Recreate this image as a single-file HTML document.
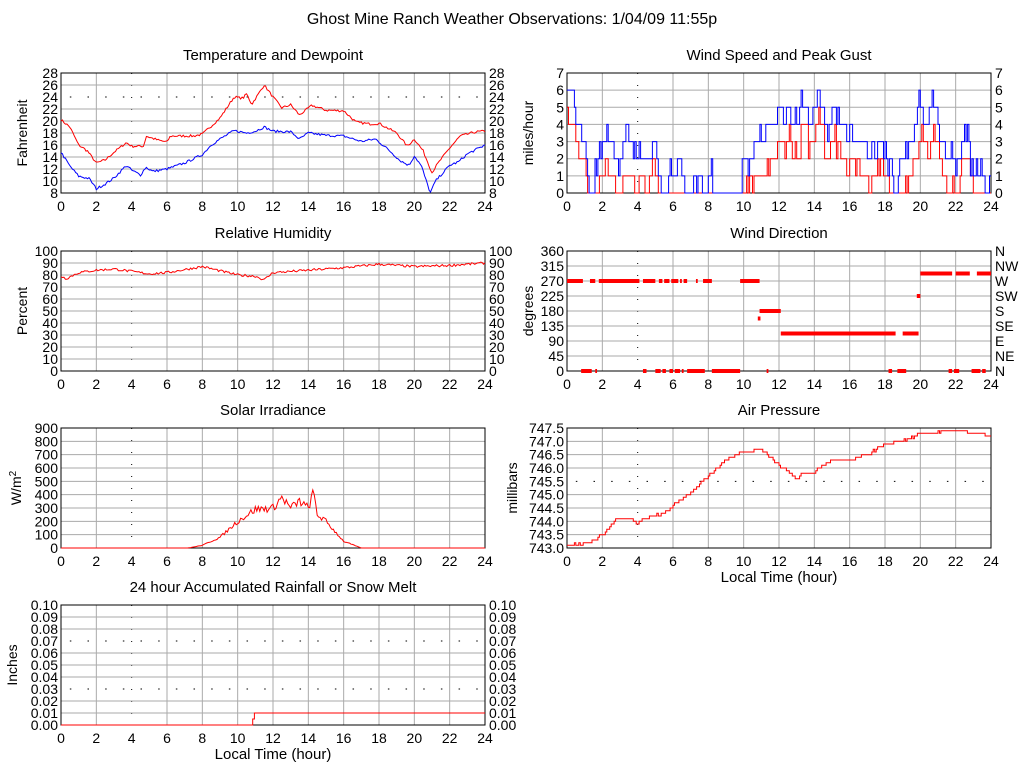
<!DOCTYPE html>
<html><head><meta charset="utf-8"><style>
html,body{margin:0;padding:0;background:#fff;width:1024px;height:768px;overflow:hidden}
svg{display:block}
text{font-family:"Liberation Sans",sans-serif;fill:#000}
</style></head><body>
<svg id="s" width="1024" height="768" xmlns="http://www.w3.org/2000/svg"></svg>
<script>
const S=document.getElementById('s');let out='';
function t(x,y,s,sz,anc,extra){out+=`<text x="${x}" y="${y}" font-size="${sz}" text-anchor="${anc||'middle'}" ${extra||''}>${s}</text>`;}
let seed=7;function rnd(){seed=(seed*16807)%2147483647;return seed/2147483647;}
function interp(k,h){for(let i=0;i<k.length-1;i++){if(h<=k[i+1][0]){const f=(h-k[i][0])/(k[i+1][0]-k[i][0]);return k[i][1]+f*(k[i+1][1]-k[i][1]);}}return k[k.length-1][1];}
function panel(o){
 const {x0,y0,w,h,min,max,n,fmt,right,title,ylab,dotY,xlab,yoff}=o;
 const X=v=>x0+v/24*w, Y=v=>y0+h-(v-min)/(max-min)*h;
 o.X=X;o.Y=Y;
 for(let i=1;i<12;i++){const x=X(i*2);out+= i==2?`<line x1="${x}" y1="${y0}" x2="${x}" y2="${y0+h}" stroke="#000" stroke-dasharray="1,11"/>`:`<line x1="${x}" y1="${y0}" x2="${x}" y2="${y0+h}" stroke="#aaa"/>`;}
 for(let i=1;i<n;i++){const y=y0+h-i*h/n;out+=(dotY&&dotY.includes(i))?`<line x1="${x0+w/48}" y1="${y}" x2="${x0+w}" y2="${y}" stroke="#000" stroke-dasharray="1.5,${(w/24-1.5).toFixed(2)}"/>`:`<line x1="${x0}" y1="${y}" x2="${x0+w}" y2="${y}" stroke="#aaa"/>`;}
 out+=`<rect x="${x0}" y="${y0}" width="${w}" height="${h}" fill="none" stroke="#000"/>`;
 for(let i=0;i<=n;i++){const y=y0+h-i*h/n;t(x0-3,y+5,fmt(i),14,'end');if(right)t(x0+w+4,y+5,right===true?fmt(i):right[i],14,'start');}
 for(let i=0;i<=12;i++)t(X(i*2),y0+h+18,i*2,14);
 t(x0+w/2,y0-13,title,15);
 const cy=y0+h/2;t(0,0,ylab,14,'middle',`transform="translate(${x0-(yoff||34)},${cy}) rotate(-90)"`);
 if(xlab)t(x0+w/2,y0+h+34,'Local Time (hour)',15);
 return o;}
function line(p,pts,col){out+=`<polyline fill="none" stroke="${col}" stroke-width="1" points="${pts.map(q=>p.X(q[0]).toFixed(1)+','+p.Y(q[1]).toFixed(1)).join(' ')}"/>`;}
function series(k,noise,step){const a=[];for(let h=0;h<=24.001;h+=step){a.push([h,interp(k,h)+(rnd()-0.5)*noise]);}return a;}
function stepPts(a){const r=[];for(let i=0;i<a.length;i++){if(i>0)r.push([a[i][0],a[i-1][1]]);r.push(a[i]);}return r;}
t(512,24,'Ghost Mine Ranch Weather Observations: 1/04/09 11:55p',16);
// Temperature
let p=panel({x0:61,y0:73,w:424,h:120,min:8,max:28,n:10,fmt:i=>8+2*i,right:true,title:'Temperature and Dewpoint',ylab:'Fahrenheit',dotY:[8]});
const red=[[0,20.2],[.5,19],[1,16],[1.5,15],[2,13],[2.5,13.5],[3,14.8],[3.7,16.4],[4,15.8],[4.7,15.8],[4.8,17.5],[5.5,16.8],[6,16.5],[6.2,17.5],[7.5,17.5],[8,17.8],[9,20.5],[9.8,24],[10.3,23.8],[10.5,24.5],[10.8,22.8],[11.5,26],[12,24],[12.5,22.2],[13,22.7],[13.5,21],[14.2,22.6],[15,21.8],[16,21.7],[16.7,19.8],[17.5,19.5],[18,19.6],[19,18],[19.6,15.8],[20,17],[20.5,15],[21,11.4],[21.3,12.8],[22,15.5],[22.6,17.5],[23.5,18.2],[24,18.3]];
const blue=[[0,14.8],[.5,12.5],[1,10.8],[1.6,10.4],[2,8.7],[2.5,9.5],[3,10.5],[3.7,12.6],[4,11.8],[4.5,11],[4.8,12.3],[5.2,11.6],[6,12],[7,13],[7.5,13.7],[8,14.4],[8.5,16],[9,17],[9.8,18.4],[10.5,18],[11,18.3],[11.5,19],[12,18.3],[13,18.2],[13.5,17],[14,18],[15,17.6],[16,17.5],[17,16.6],[17.8,17],[18.5,15.3],[19.2,13.4],[19.7,12.6],[20,14.2],[20.4,12.5],[20.9,8],[21.2,10],[22,12.6],[22.5,13.2],[23,14.5],[24,16]];
line(p,series(red,0.4,1/12),'#f00');line(p,series(blue,0.4,1/12),'#00f');
// Wind speed
p=panel({x0:567,y0:73,w:424,h:120,min:0,max:7,n:7,fmt:i=>i,right:true,title:'Wind Speed and Peak Gust',ylab:'miles/hour'});
const env=[[0,6],[.7,4],[.9,.3],[1.3,.5],[1.5,2.5],[2,3.5],[3,2.5],[3.5,3.5],[4,2],[4.3,.5],[4.8,3],[5,.5],[6,1],[6.6,1],[7,.2],[7.5,1],[8,1],[8.3,0],[9.7,0],[10,3.5],[10.5,2],[11,4],[12,4.5],[13,5],[14,4.5],[15,4],[16,3],[17,3],[18,2],[18.6,1],[19,2],[20,5.5],[21,3.5],[21.5,2],[22,1.5],[22.5,2.5],[23,.5],[23.5,1.5],[24,2]];
const g=[],sp=[];let gv=6,sv=4;
for(let h=0;h<=24.001;h+=1/12){let e=interp(env,h);
 if(e<0.2)gv=0;else{gv+= (e-gv)*0.35+(rnd()-0.5)*1.6;gv=Math.max(0,Math.min(7,gv));}
 let G=Math.round(gv);g.push([h,G]);
 let target=G-1.3-rnd()*0.8; sv+= (target-sv)*0.5+(rnd()-0.5)*1.2; sp.push([h,Math.max(0,Math.min(G,Math.round(sv)))]);}
line(p,stepPts(sp),'#f00');line(p,stepPts(g),'#00f');
// Humidity
p=panel({x0:61,y0:251,w:424,h:120,min:0,max:100,n:10,fmt:i=>i*10,right:true,title:'Relative Humidity',ylab:'Percent'});
line(p,series([[0,79],[.3,77],[1,82],[2,84],[3,85],[4,83],[5,81],[6,82],[8,87],[10,80],[11,79],[11.5,76],[12,82],[14,84],[16,86],[18,89],[20,87],[22,88],[24,90]],2,1/12),'#f00');
// Wind dir
p=panel({x0:567,y0:251,w:424,h:120,min:0,max:360,n:8,fmt:i=>i*45,right:['N','NE','E','SE','S','SW','W','NW','N'],title:'Wind Direction',ylab:'degrees'});
const segs=[[0,.9,270],[1.3,1.6,270],[1.8,4.1,270],[4.3,5,270],[5.2,5.4,270],[5.5,5.8,270],[5.9,6.3,270],[6.4,6.5,270],[6.6,6.8,270],[7.3,7.4,270],[7.7,8.2,270],[9.8,10.9,270],[.8,1.4,0],[1.6,1.7,0],[4.3,4.5,0],[5,5.3,0],[5.4,5.6,0],[5.8,6,0],[6.1,6.4,0],[6.5,6.6,0],[6.8,7.8,0],[8.2,9.8,0],[11.3,11.4,0],[18.2,18.4,0],[18.7,19.2,0],[21.6,21.8,0],[21.9,22.2,0],[22.9,23.4,0],[23.5,23.7,0],[10.8,10.95,157.5],[10.9,12.1,180],[12.1,18.6,112.5],[19,19.9,112.5],[19.8,20,225],[20,21.8,292.5],[22,22.8,292.5],[23.2,24,292.5]];
for(const s of segs)out+=`<rect x="${p.X(s[0])}" y="${p.Y(s[2])-2}" width="${p.X(s[1])-p.X(s[0])}" height="4" fill="#f00"/>`;
// Solar
p=panel({x0:61,y0:428,w:424,h:120,min:0,max:900,n:9,fmt:i=>i*100,right:false,title:'Solar Irradiance',ylab:'W/m<tspan baseline-shift="super" font-size="10">2</tspan>',yoff:40});
const sol=series([[0,0],[7.2,0],[8,20],[9,80],[10,200],[11,290],[12,300],[12.5,380],[13,300],[13.5,350],[14,300],[14.3,420],[14.5,250],[15,200],[16,50],[17,0],[24,0]],0,1/12).map(q=>[q[0],q[1]>5?q[1]+(rnd()-0.5)*q[1]*0.2:q[1]]);
line(p,sol,'#f00');
// Pressure
p=panel({x0:567,y0:428,w:424,h:120,min:743,max:747.5,n:9,fmt:i=>(743+i*0.5).toFixed(1),right:false,title:'Air Pressure',ylab:'millibars',dotY:[5],xlab:true,yoff:50});
const pr=series([[0,743.1],[1.3,743.2],[2,743.5],[2.8,744.1],[3.6,744.1],[4,743.9],[4.2,744.1],[5.5,744.3],[6,744.6],[7,745.1],[8,745.7],[9,746.3],[9.8,746.6],[11,746.7],[11.5,746.4],[12,746.1],[12.5,745.9],[13,745.6],[13.3,745.8],[14,745.8],[14.2,746],[15,746.3],[16,746.3],[17,746.5],[18,746.9],[19,747],[20,747.3],[22,747.4],[24,747.2]],0.06,1/12).map(q=>[q[0],Math.round(q[1]*10)/10]);
line(p,stepPts(pr),'#f00');
// Rain
p=panel({x0:61,y0:605,w:424,h:120,min:0,max:0.1,n:10,fmt:i=>(i/100).toFixed(2),right:true,title:'24 hour Accumulated Rainfall or Snow Melt',ylab:'Inches',dotY:[3,7],xlab:true,yoff:44});
line(p,[[0,0],[10.85,0],[10.85,0.005],[10.95,0.005],[10.95,0.01],[24,0.01]],'#f00');
S.innerHTML=out;
</script>
</body></html>
